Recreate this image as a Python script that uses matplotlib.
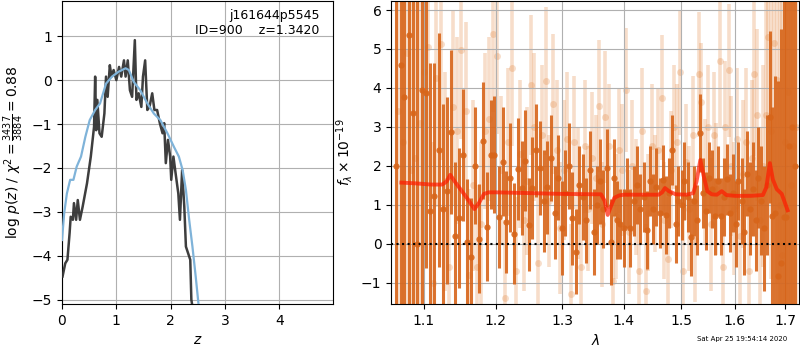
import matplotlib
matplotlib.use('Agg')
import matplotlib.pyplot as plt
from matplotlib.ticker import ScalarFormatter, NullLocator, NullFormatter

# ---- left panel: redshift probability ----
z_chi = [0.01, 0.06, 0.10, 0.14, 0.16, 0.20, 0.22, 0.26, 0.29, 0.33, 0.38, 0.46, 0.53, 0.59,
         0.61, 0.63, 0.65, 0.69, 0.73, 0.78, 0.81, 0.84, 0.88, 0.91, 0.95, 1.00, 1.05, 1.09,
         1.14, 1.17, 1.21, 1.25, 1.29, 1.34, 1.37, 1.41, 1.46, 1.49, 1.53, 1.57, 1.61, 1.66,
         1.70, 1.75, 1.80, 1.85, 1.88, 1.91, 1.95, 1.99, 2.01, 2.05, 2.09, 2.14, 2.17, 2.21,
         2.25, 2.28, 2.32, 2.36, 2.38, 2.40]
logp_chi = [-4.47, -4.17, -4.09, -3.48, -3.11, -3.18, -2.80, -3.18, -2.73, -3.18, -2.88, -2.35,
            -1.74, -1.06, 0.08, -1.14, -0.45, -1.21, -1.29, -0.76, 0.08, -0.38, 0.34, 0.08,
            0.23, 0.00, 0.30, 0.08, 0.45, 0.08, 0.45, -0.23, -0.38, 0.91, -0.45, -0.30, -0.61,
            0.08, 0.45, -0.68, -0.61, -0.30, -0.68, -0.68, -0.98, -1.21, -0.98, -1.89, -1.36,
            -1.74, -2.27, -1.74, -2.12, -2.58, -3.18, -2.05, -2.88, -3.79, -3.94, -4.09, -5.00,
            -5.15]

z_pz = [0.00, 0.04, 0.09, 0.15, 0.21, 0.27, 0.35, 0.43, 0.51, 0.61, 0.70, 0.81, 0.92, 1.04,
        1.17, 1.23, 1.32, 1.44, 1.57, 1.69, 1.81, 1.94, 2.06, 2.15, 2.22, 2.28, 2.34, 2.40,
        2.46, 2.51]
logp_pz = [-3.64, -3.03, -2.58, -2.27, -2.27, -1.97, -1.74, -1.29, -0.91, -0.68, -0.53, -0.08,
           0.08, 0.19, 0.27, 0.23, -0.04, -0.23, -0.53, -0.76, -0.91, -1.21, -1.52, -1.74,
           -2.05, -2.50, -3.18, -3.79, -4.47, -5.08]

# ---- right panel: spectrum ----
wave_a = [1.064, 1.070, 1.075, 1.081, 1.086, 1.092, 1.098, 1.103, 1.109, 1.114,
          1.120, 1.126, 1.131, 1.137, 1.142, 1.148, 1.154, 1.159, 1.165, 1.170,
          1.176, 1.182, 1.187, 1.193, 1.198, 1.204, 1.210, 1.215, 1.221, 1.226,
          1.232, 1.238, 1.243, 1.249, 1.254, 1.260, 1.266, 1.271, 1.277, 1.282,
          1.288, 1.294, 1.299, 1.305, 1.310, 1.316, 1.322, 1.327, 1.333, 1.338,
          1.344, 1.350, 1.355, 1.361, 1.366, 1.372, 1.378, 1.383, 1.389, 1.394,
          1.400, 1.406, 1.411, 1.417, 1.422, 1.428, 1.434, 1.439, 1.445, 1.450,
          1.456, 1.462, 1.467, 1.473, 1.478, 1.484, 1.490, 1.495, 1.501, 1.506,
          1.512, 1.518, 1.523, 1.529, 1.534, 1.540, 1.546, 1.551, 1.557, 1.562,
          1.568, 1.574, 1.579, 1.585, 1.590, 1.596, 1.602, 1.607, 1.613, 1.618,
          1.624, 1.630, 1.635, 1.641, 1.646, 1.652, 1.658, 1.663, 1.669, 1.674,
          1.680, 1.686, 1.691, 1.697, 1.702, 1.708, 1.714, 1.720]
flux_a = [2.0, 4.6, 3.77, 5.36, 3.36, 0.0, 3.95, 3.88, 0.85, 1.23,
          2.4, 0.9, 1.36, 2.87, 0.2, 0.66, 2.28, 0.05, -0.33, 2.0,
          0.13, 2.64, 0.44, 2.28, 2.28, 0.69, 2.1, 0.56, 1.69, 0.26,
          1.92, 1.43, 2.13, 0.49, 1.43, 2.4, 1.95, 1.1, 1.45, 2.2,
          0.8, 1.7, 0.4, 1.3, 2.0, 0.65, -0.2, 1.5, 1.2, 0.6,
          1.9, 0.3, 1.0, 1.6, 0.9, 1.95, 0.05, 1.7, 0.6, 0.5,
          0.4, 1.3, 0.4, 1.1, 1.5, 0.9, 1.2, 0.36, 1.6, 0.9,
          1.45, 0.8, 1.64, 0.75, 1.3, 2.4, 0.5, 1.1, 1.0, 1.6,
          1.2, 0.18, 1.1, 0.6, 2.85, 1.3, 0.83, 1.7, 1.4, 0.7,
          1.6, 0.7, 1.2, 1.65, 0.8, 1.3, 0.5, 1.6, 1.1, 0.3,
          1.8, 0.9, 1.4, 0.6, 1.7, 1.1, 0.4, 1.5, 3.25, 0.7,
          0.8, -0.82, -0.5, 0.68, 0.68, 2.5, 3.0, 2.0]
err_a = [10, 10, 9, 9, 8, 7, 6, 4.5, 3.8, 3.4,
         3.0, 2.7, 2.4, 2.1, 1.9, 1.8, 1.7, 1.6, 1.5, 1.5,
         1.4, 1.5, 1.4, 1.4, 1.5, 1.3, 1.4, 1.3, 1.4, 1.3,
         1.3, 1.2, 1.3, 1.2, 1.3, 1.2, 1.2, 1.3, 1.2, 1.1,
         1.2, 1.1, 1.2, 1.1, 1.1, 1.2, 1.1, 1.0, 1.1, 1.1,
         1.0, 1.1, 1.0, 1.1, 1.0, 1.0, 1.1, 1.0, 1.0, 0.9,
         1.0, 0.9, 1.0, 0.9, 1.0, 0.9, 0.9, 1.0, 0.9, 0.9,
         1.0, 0.9, 0.9, 1.0, 0.9, 0.9, 1.0, 0.9, 0.9, 1.0,
         0.9, 1.0, 0.9, 0.9, 1.0, 0.9, 1.0, 0.9, 1.0, 1.0,
         0.9, 1.0, 1.0, 0.9, 1.0, 1.0, 1.1, 1.0, 1.1, 1.1,
         1.1, 1.2, 1.2, 1.3, 1.3, 1.4, 1.6, 1.8, 2.2, 2.8,
         3.5, 5, 6, 8, 9, 10, 10, 10]

wave_b = [1.067, 1.073, 1.078, 1.084, 1.089, 1.095, 1.101, 1.106, 1.112, 1.117,
          1.123, 1.129, 1.134, 1.140, 1.145, 1.151, 1.157, 1.162, 1.168, 1.173,
          1.179, 1.185, 1.190, 1.196, 1.201, 1.207, 1.213, 1.218, 1.224, 1.229,
          1.235, 1.241, 1.246, 1.252, 1.257, 1.263, 1.269, 1.274, 1.280, 1.285,
          1.291, 1.297, 1.302, 1.308, 1.313, 1.319, 1.325, 1.330, 1.336, 1.341,
          1.347, 1.353, 1.358, 1.364, 1.369, 1.375, 1.381, 1.386, 1.392, 1.397,
          1.403, 1.409, 1.414, 1.420, 1.425, 1.431, 1.437, 1.442, 1.448, 1.453,
          1.459, 1.465, 1.470, 1.476, 1.481, 1.487, 1.493, 1.498, 1.504, 1.509,
          1.515, 1.521, 1.526, 1.532, 1.537, 1.543, 1.549, 1.554, 1.560, 1.565,
          1.571, 1.577, 1.582, 1.588, 1.593, 1.599, 1.605, 1.610, 1.616, 1.621,
          1.627, 1.633, 1.638, 1.644, 1.649, 1.655, 1.661, 1.666, 1.672, 1.677,
          1.683, 1.689, 1.694, 1.700, 1.705, 1.711, 1.717, 1.722]
flux_b = [3.4, 2.6, 4.9, 1.9, 2.2, 3.1, 4.4, 5.05, -1.0, 4.25,
          5.14, 1.6, -0.6, 3.5, 2.9, 4.98, 3.4, -0.8, 1.5, -0.6,
          0.5, 2.9, 3.2, 5.38, 4.82, 1.9, -1.4, 2.6, 4.5, -0.7,
          2.3, 0.6, 1.6, 4.07, 3.0, -0.5, 2.8, 4.18, 1.1, 3.58,
          2.4, 0.4, 1.9, 2.7, -1.3, 2.6, 1.3, -0.6, 2.5, 0.9,
          2.2, 1.7, 3.53, 0.5, 3.25, 2.5, -0.95, 0.7, 2.4, 1.9,
          3.95, 0.3, 2.0, 1.2, -0.7, 2.9, -1.2, 0.8, 2.5, 1.3,
          2.4, 3.75, 0.6, -0.4, 1.9, 3.0, 2.6, 4.4, -0.7, 2.1,
          0.9, 2.8, 0.1, 4.35, 3.65, 1.6, 3.0, 0.5, 2.8, 1.4,
          4.7, -0.6, 3.0, 4.45, 2.0, 0.9, 2.7, 0.2, 1.8, 2.6,
          -0.7, 2.2, 4.35, 3.3, 0.6, 2.0, 3.3, 5.3, 2.9, 5.15,
          4.2, 1.0, -0.3, 2.6, 3.9, 1.5, 2.5, 3.0]
err_b = [8, 8, 7, 6, 5.5, 5, 4.5, 4, 3.6, 3.3,
         3.0, 2.8, 2.6, 2.5, 2.4, 2.3, 2.3, 2.2, 2.2, 2.1,
         2.1, 2.0, 2.1, 2.0, 2.0, 1.9, 2.0, 1.9, 2.0, 1.9,
         1.9, 1.8, 1.9, 1.8, 1.9, 1.8, 1.8, 1.9, 1.7, 1.8,
         1.8, 1.7, 1.8, 1.7, 1.8, 1.7, 1.7, 1.8, 1.7, 1.6,
         1.7, 1.6, 1.7, 1.6, 1.7, 1.6, 1.7, 1.6, 1.6, 1.7,
         1.6, 1.6, 1.7, 1.5, 1.6, 1.6, 1.7, 1.5, 1.6, 1.5,
         1.6, 1.6, 1.5, 1.6, 1.5, 1.6, 1.5, 1.6, 1.6, 1.5,
         1.6, 1.5, 1.6, 1.6, 1.5, 1.6, 1.6, 1.7, 1.6, 1.7,
         1.7, 1.6, 1.7, 1.7, 1.8, 1.7, 1.8, 1.8, 1.9, 1.9,
         2.0, 2.0, 2.1, 2.2, 2.4, 2.6, 2.9, 3.3, 3.8, 4.5,
         5.2, 6, 7, 8, 9, 10, 10, 10]

wave_model = [1.071, 1.09, 1.11, 1.125, 1.131, 1.136, 1.142, 1.150, 1.160, 1.1695, 1.176,
              1.183, 1.190, 1.20, 1.25, 1.30, 1.35, 1.362, 1.368, 1.373, 1.378, 1.384,
              1.392, 1.40, 1.43, 1.46, 1.466, 1.471, 1.478, 1.49, 1.51, 1.522, 1.528,
              1.535, 1.541, 1.548, 1.556, 1.566, 1.575, 1.584, 1.60, 1.63, 1.655, 1.662,
              1.669, 1.675, 1.683, 1.693, 1.705]
flux_model = [1.57, 1.55, 1.52, 1.52, 1.60, 1.77, 1.60, 1.40, 1.15, 0.89, 1.05,
              1.28, 1.32, 1.32, 1.30, 1.28, 1.27, 1.27, 1.10, 0.74, 0.95, 1.18,
              1.24, 1.26, 1.26, 1.26, 1.32, 1.43, 1.35, 1.27, 1.26, 1.30, 1.60,
              2.15, 1.75, 1.35, 1.27, 1.26, 1.35, 1.25, 1.23, 1.23, 1.25, 1.45,
              2.07, 1.65, 1.40, 1.28, 0.86]

obj_name = 'j161644p5545'
obj_id = 900
z_best = 1.3420
chi2_num, chi2_den = 3437, 3884
stamp = 'Sat Apr 25 19:54:14 2020'

fig = plt.figure(figsize=(8, 3.5), dpi=100)

ax = fig.add_axes([0.0775, 0.131, 0.339, 0.866])
ax.plot(z_chi, logp_chi, color='#333333', lw=1.8, alpha=0.95, zorder=3)
ax.plot(z_pz, logp_pz, color='#7fb3d9', lw=1.6, zorder=4)
ax.set_xlim(0, 4.99)
ax.set_ylim(-5.1, 1.8)
ax.set_xticks([0, 1, 2, 3, 4])
ax.set_yticks([-5, -4, -3, -2, -1, 0, 1])
ax.grid(True)
ax.set_xlabel(r'$z$')
ax.set_ylabel(r'$\log\,p(z)$' + ' / ' +
              r'$\chi^2=\frac{%d}{%d}=%.2f$' % (chi2_num, chi2_den, chi2_num / chi2_den))
ax.text(0.95, 0.975, '%s\nID=%d    z=%.4f' % (obj_name, obj_id, z_best),
        transform=ax.transAxes, ha='right', va='top', fontsize=9)

ax2 = fig.add_axes([0.489, 0.131, 0.51, 0.866])
ax2.errorbar(wave_b, flux_b, yerr=err_b, marker='o', ms=5, linestyle='None',
             color='#e07b2e', alpha=0.25, elinewidth=2.6, mew=0, zorder=1)
ax2.errorbar(wave_a, flux_a, yerr=err_a, marker='o', ms=4.5, linestyle='None',
             color='#d7651a', alpha=0.9, elinewidth=2.2, mew=0, zorder=2)
ax2.plot(wave_model, flux_model, color='#ff1a00', lw=2.8, alpha=0.7, zorder=5)
ax2.axhline(0, color='k', linestyle=':', lw=1.5, zorder=6)

ax2.set_xscale('log')
ax2.set_xlim(1.058, 1.729)
ax2.set_ylim(-1.55, 6.23)
ax2.set_xticks([1.1, 1.2, 1.3, 1.4, 1.5, 1.6, 1.7])
ax2.xaxis.set_major_formatter(ScalarFormatter())
ax2.xaxis.set_minor_locator(NullLocator())
ax2.xaxis.set_minor_formatter(NullFormatter())
ax2.set_yticks([-1, 0, 1, 2, 3, 4, 5, 6])
ax2.grid(True)
ax2.set_xlabel(r'$\lambda$')
ax2.set_ylabel(r'$f_\lambda\times10^{-19}$')

fig.text(0.984, 0.022, stamp, ha='right', va='bottom', fontsize=5)

fig.savefig('out.png', dpi=100)
